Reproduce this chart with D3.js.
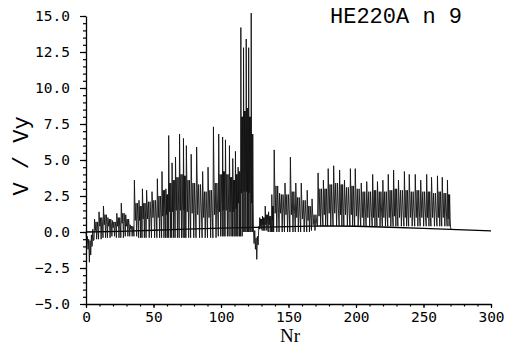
<!DOCTYPE html>
<html>
<head>
<meta charset="utf-8">
<script src="https://cdn.jsdelivr.net/npm/d3@7"></script>
<style>
  html, body { margin: 0; padding: 0; background: #fff; }
  svg { display: block; }
</style>
</head>
<body>
<svg id="chart" width="512" height="346"></svg>
<script>
// ---- data ----
const title = "HE220A n 9";
const xLabel = "Nr";
const yLabel = "V / Vy";
const xTicks = [0, 50, 100, 150, 200, 250, 300];
const yTicks = [-5, -2.5, 0, 2.5, 5, 7.5, 10, 12.5, 15];

// start of the record (Nr 0-6), negative excursion
const startNr = [0, 0.5, 1, 1.5, 2, 2.5, 3, 3.5, 4, 4.5, 5, 5.5];
const startV  = [0, -0.8, -0.3, -1.2, -0.5, -2.1, -0.6, -1.6, -0.2, -1.0, 0.2, -0.6];

// dip after the big peaks (Nr 124-128)
const dipNr = [124, 124.5, 125, 125.5, 126, 126.5, 127, 127.5, 128];
const dipV  = [0.3, -0.8, 0.1, -1.2, -0.4, -1.9, -0.3, -0.9, 0.4];

// end of the record
const endNr = [270, 270.4];
const endV  = [0.35, 0.2];

// loading cycles: start Nr, peak, upper band, lower band, trough
const cycleNr = [6, 9.3, 12.6, 15.9, 19.2, 22.5, 25.8, 29.1, 32.4,
  35.5, 39, 41.5, 44.5, 48.5, 52.5, 56, 59, 61, 63.5, 66, 69, 72, 74, 77.5, 81.5,
  86, 90, 94, 98, 101, 103, 106, 108.5, 110.5, 112.5, 114.5, 116.5, 118.5, 120.3, 122.2,
  128.5, 130.5, 132.5, 135, 137.5, 139, 143, 147, 151, 155, 159, 163.5, 167,
  171.5, 175.5, 179, 183, 187.5, 191, 195.5, 199, 203.5, 207.5, 212, 215.5, 219.5,
  223.5, 227.5, 231, 235.5, 239, 243.5, 247.5, 252, 255.5, 260, 263.5, 267.5];
const cyclePeak = [0.9, 1.4, 1.8, 1.0, 0.8, 1.3, 2.0, 1.2, 0.5,
  3.6, 2.2, 3.0, 2.9, 2.8, 3.7, 4.2, 3.0, 6.7, 4.8, 5.2, 6.8, 6.5, 6.0, 5.4, 5.9,
  4.2, 4.5, 7.3, 6.8, 6.6, 6.4, 6.0, 5.1, 5.6, 4.5, 14.2, 12.8, 13.4, 12.8, 15.2,
  1.0, 1.1, 1.8, 1.4, 2.6, 5.7, 2.7, 3.4, 5.2, 3.4, 3.4, 2.9, 2.3,
  4.1, 3.6, 4.4, 4.6, 4.3, 3.6, 4.4, 4.4, 3.4, 3.5, 4.0, 3.5, 3.6,
  4.0, 4.3, 3.6, 4.2, 4.0, 4.0, 3.6, 4.0, 3.8, 3.9, 3.8, 3.6];
const cycleBandHi = [0.7, 1.0, 1.2, 0.9, 0.7, 1.0, 1.3, 0.9, 0.4,
  2.0, 1.8, 2.0, 2.1, 2.2, 2.5, 2.9, 2.6, 3.4, 3.6, 3.8, 4.0, 3.9, 3.6, 3.4, 3.3,
  2.8, 2.9, 3.4, 4.0, 4.2, 4.0, 3.8, 3.6, 4.0, 4.2, 8.0, 8.4, 8.6, 8.0, 6.8,
  0.9, 1.0, 1.2, 1.1, 1.8, 3.2, 2.6, 2.6, 2.8, 2.4, 2.2, 1.8, 1.2,
  3.0, 3.0, 3.3, 3.4, 3.3, 3.1, 3.2, 3.0, 2.8, 2.8, 2.9, 2.8, 2.8,
  2.9, 3.0, 2.9, 2.9, 2.8, 2.9, 2.8, 2.8, 2.7, 2.8, 2.7, 2.6];
const cycleBandLo = [0.1, 0.4, 0.5, 0.4, 0.3, 0.4, 0.6, 0.4, 0.2,
  0.8, 0.8, 0.9, 0.9, 1.0, 1.0, 1.1, 1.2, 1.4, 1.4, 1.5, 1.5, 1.5, 1.4, 1.3, 1.2,
  1.0, 1.0, 1.2, 1.4, 1.5, 1.5, 1.4, 1.4, 1.6, 2.0, 2.7, 2.8, 2.8, 2.7, 2.0,
  0.4, 0.5, 0.5, 0.5, 0.8, 1.3, 1.3, 1.2, 1.2, 1.0, 0.9, 0.8, 0.5,
  1.1, 1.2, 1.3, 1.3, 1.2, 1.2, 1.2, 1.1, 1.0, 1.0, 1.0, 1.0, 1.0,
  1.0, 1.1, 1.0, 1.0, 1.0, 1.0, 1.0, 1.0, 1.0, 1.0, 1.0, 0.9];
const cycleLow = [-0.5, -0.5, -0.4, -0.4, -0.3, -0.4, -0.4, -0.3, -0.3,
  -0.3, -0.4, -0.4, -0.4, -0.4, -0.4, -0.4, -0.4, -0.4, -0.4, -0.4, -0.4, -0.4, -0.4, -0.4, -0.4,
  -0.4, -0.4, -0.4, -0.3, -0.3, -0.3, -0.3, -0.3, -0.3, -0.3, -0.3, 0.0, 0.0, 0.0, 0.0,
  0.2, 0.1, 0.1, 0.0, 0.0, 0.0, 0.0, 0.0, 0.0, 0.0, 0.0, 0.0, 0.1,
  0.4, 0.4, 0.4, 0.4, 0.4, 0.4, 0.4, 0.4, 0.4, 0.4, 0.4, 0.4, 0.4,
  0.4, 0.4, 0.4, 0.4, 0.4, 0.4, 0.4, 0.4, 0.4, 0.4, 0.4, 0.4];

// reference (zero) line, slightly bowed
const baseNr = [0, 25, 50, 75, 100, 125, 150, 175, 200, 225, 250, 275, 300];
const baseV  = [0.0, 0.05, 0.12, 0.2, 0.27, 0.32, 0.38, 0.42, 0.4, 0.33, 0.25, 0.17, 0.08];

// ---- drawing ----
const svg = d3.select("#chart");
const x = d3.scaleLinear().domain([0, 300]).range([86, 491]);
const y = d3.scaleLinear().domain([-5, 15]).range([304, 16]);

// build the trace
const events = [];
events.push({start: startNr[0], pts: startNr.map((n, i) => [n, startV[i]])});
events.push({start: dipNr[0], pts: dipNr.map((n, i) => [n, dipV[i]])});
events.push({start: endNr[0], pts: endNr.map((n, i) => [n, endV[i]])});
cycleNr.forEach((n, i) => events.push({start: n, cycle: i}));
events.sort((a, b) => a.start - b.start);

// each cycle: trough, spike, then two loading loops with a gap between them
const frac = [0, 0.1, 0.28, 0.44, 0.58, 0.74, 0.9];
const trace = [];
events.forEach((ev, k) => {
  if (ev.pts) { ev.pts.forEach(p => trace.push(p)); return; }
  const i = ev.cycle;
  const nextStart = k + 1 < events.length ? events[k + 1].start : ev.start + 4;
  const s = Math.min(nextStart - ev.start, 5);
  const vals = [cycleLow[i], cyclePeak[i], cycleBandLo[i], cycleBandHi[i],
                cycleLow[i], cycleBandHi[i], cycleBandLo[i]];
  frac.forEach((f, j) => trace.push([ev.start + f * s, vals[j]]));
});

const line = d3.line().x(d => x(d[0])).y(d => y(d[1]));

svg.append("path")
  .datum(baseNr.map((n, i) => [n, baseV[i]]))
  .attr("d", line)
  .attr("fill", "none").attr("stroke", "#000").attr("stroke-width", 1.3);

svg.append("path")
  .datum(trace)
  .attr("d", line)
  .attr("fill", "none").attr("stroke", "#111").attr("stroke-width", 0.9)
  .attr("stroke-linejoin", "miter");

// axes
const tickFont = "'DejaVu Sans Mono', monospace";
svg.append("g").attr("transform", "translate(86,0)")
  .call(d3.axisLeft(y).tickValues(yTicks).tickSize(6).tickSizeOuter(0)
        .tickPadding(10).tickFormat(d3.format(".1f")));
const yMinor = svg.append("g").attr("transform", "translate(86,0)")
  .call(d3.axisLeft(y).tickValues(d3.range(-5, 15.01, 0.5)).tickSize(3)
        .tickSizeOuter(0).tickFormat(""));
yMinor.select(".domain").remove();

svg.append("g").attr("transform", "translate(0,304)")
  .call(d3.axisBottom(x).tickValues(xTicks).tickSize(4).tickSizeOuter(0).tickPadding(4));
const xMinor = svg.append("g").attr("transform", "translate(0,304)")
  .call(d3.axisBottom(x).tickValues(d3.range(0, 301, 10)).tickSize(2.5)
        .tickSizeOuter(0).tickFormat(""));
xMinor.select(".domain").remove();

svg.selectAll(".domain").attr("stroke", "#000").attr("stroke-width", 1.3);
svg.selectAll(".tick line").attr("stroke", "#000").attr("stroke-width", 1.2);
svg.selectAll(".tick text").attr("fill", "#000")
  .style("font-family", tickFont).style("font-size", "14.5px");

// labels
svg.append("text").text(title)
  .attr("x", 330).attr("y", 23)
  .style("font-family", "'Liberation Mono', monospace").style("font-size", "22px")
  .attr("fill", "#000");

svg.append("text").text(xLabel)
  .attr("x", 290).attr("y", 342).attr("text-anchor", "middle")
  .style("font-family", "'Liberation Serif', serif").style("font-size", "19px")
  .attr("fill", "#000");

svg.append("text").text(yLabel)
  .attr("transform", "translate(28,156) rotate(-90)")
  .attr("text-anchor", "middle")
  .style("font-family", "'Liberation Mono', monospace").style("font-size", "22px")
  .attr("fill", "#000");
</script>
</body>
</html>
